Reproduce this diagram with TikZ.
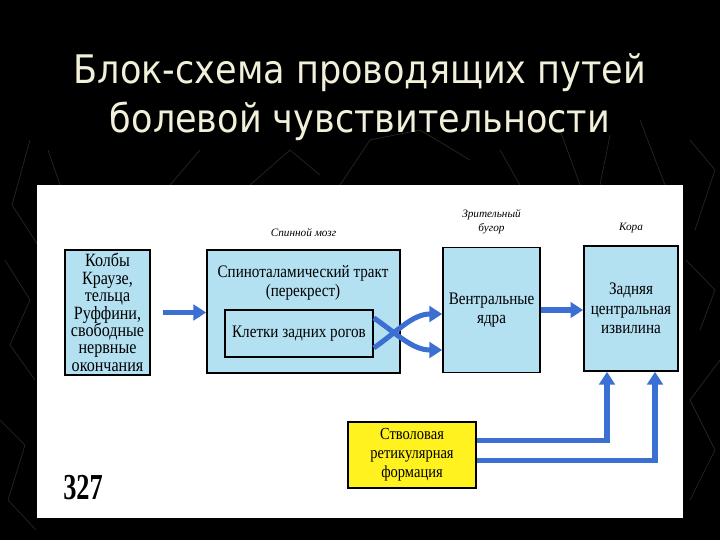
\documentclass[tikz,border=0pt]{standalone}
\usepackage{fontspec}
\setmainfont{Liberation Serif}
\newfontfamily\titlefont[FakeStretch=0.89]{DejaVu Sans}
\newfontfamily\boxfont[FakeStretch=0.86]{Liberation Serif}
\newfontfamily\numfont[FakeStretch=0.72]{Liberation Serif}
\usetikzlibrary{positioning,arrows.meta}

\definecolor{boxblue}{HTML}{B3E1F2}
\definecolor{flowblue}{HTML}{3C6FD2}
\definecolor{retyellow}{HTML}{FFF21E}
\definecolor{titlecream}{HTML}{F2F0DA}
\definecolor{decor}{HTML}{262624}

\tikzset{
  block/.style={draw=black, line width=1.2pt, fill=boxblue, align=center,
    inner sep=1pt, font=\boxfont\fontsize{12.5}{14}\selectfont},
  blocktext/.style={align=center, inner sep=0pt, font=\boxfont\fontsize{12.5}{14}\selectfont},
  flow/.style={draw=flowblue, line width=3.6pt, -{Triangle[length=9pt,width=11pt]}},
  region/.style={align=center, inner sep=0pt, font=\itshape\fontsize{8}{10}\selectfont},
  decorline/.style={draw=decor, line width=0.5pt},
}

\begin{document}
\begin{tikzpicture}[x=0.025cm, y=-0.025cm]
    % background and page
    \fill[black] (0,0) rectangle (720,540);
    \useasboundingbox (0,0) rectangle (720,540);

    \draw[decorline] (30,140) -- (12,205) -- (38,245);
    \draw[decorline] (5,260) -- (30,300) -- (10,345) -- (35,380);
    \draw[decorline] (0,420) -- (25,445) -- (8,500) -- (36,530);
    \draw[decorline] (60,185) -- (48,150);
    \draw[decorline] (170,185) -- (200,150);
    \draw[decorline] (250,185) -- (290,150) -- (320,175);
    \draw[decorline] (340,185) -- (370,140) -- (420,130) -- (470,160);
    \draw[decorline] (500,150) -- (520,185);
    \draw[decorline] (560,130) -- (580,185);
    \draw[decorline] (610,135) -- (600,185);
    \draw[decorline] (640,120) -- (665,185);
    \draw[decorline] (690,140) -- (715,170) -- (695,230);
    \draw[decorline] (686,260) -- (715,290) -- (700,330);
    \draw[decorline] (720,360) -- (690,400) -- (715,450) -- (690,500);

    \fill[white] (37,185) rectangle (683,518);

    \node[font=\titlefont\fontsize{28}{35}\selectfont, text=titlecream, align=center]
        (title) at (360,97) {Блок-схема проводящих путей\\болевой чувствительности};

    % blocks
    \node[block, minimum width=2.125cm, minimum height=3.125cm,
        font=\boxfont\fontsize{13.3}{12.4}\selectfont] (recept) at (107.5,312.5)
        {Колбы\\Краузе,\\тельца\\Руффини,\\свободные\\нервные\\окончания};
    \node[block, minimum width=4.825cm, minimum height=3.075cm] (spinal) at (303.5,311.5) {};
    \node[blocktext] (tract) at (303,283) {Спиноталамический тракт\\(перекрест)};
    \node[block, minimum width=3.7cm, minimum height=1.175cm] (horn) at (299,333.5)
        {Клетки задних рогов};
    \node[block, minimum width=2.425cm, minimum height=3.125cm]
        (ventral) at (491.5,310) {Вентральные\\ядра};
    \node[block, minimum width=2.35cm, minimum height=3.125cm]
        (cortex) at (631,308.5) {Задняя\\центральная\\извилина};
    \node[block, fill=retyellow, minimum width=3.2cm, minimum height=1.65cm,
        font=\boxfont\fontsize{12}{13.5}\selectfont] (retic) at (412,455)
        {Стволовая\\ретикулярная\\формация};

    % region labels
    \node[region, above=0.3cm of spinal] (spinallbl) {Спинной мозг};
    \node[region, above=0.3cm of ventral] (thallbl) {Зрительный\\бугор};
    \node[region, above=0.3cm of cortex] (cortexlbl) {Кора};

    % connections
    \draw[flow] ([xshift=0.3cm]recept.east) -- (spinal.west |- recept.east);
    \draw[flow] ([yshift=0.39cm]horn.east) to[out=-35, in=180] ([yshift=-1.0cm]ventral.west);
    \draw[flow] ([yshift=-0.36cm]horn.east) to[out=35, in=180] ([yshift=-0.1cm]ventral.west);
    \draw[flow] (ventral.east) -- (cortex.west |- ventral.east);
    \draw[flow] ([yshift=0.37cm]retic.east) -| ([xshift=-0.6cm]cortex.south);
    \draw[flow] ([yshift=-0.14cm]retic.east) -| ([xshift=0.6cm]cortex.south);

    \node[font=\numfont\bfseries\fontsize{26}{26}\selectfont] (pagenum) at (83,488) {327};
\end{tikzpicture}
\end{document}
